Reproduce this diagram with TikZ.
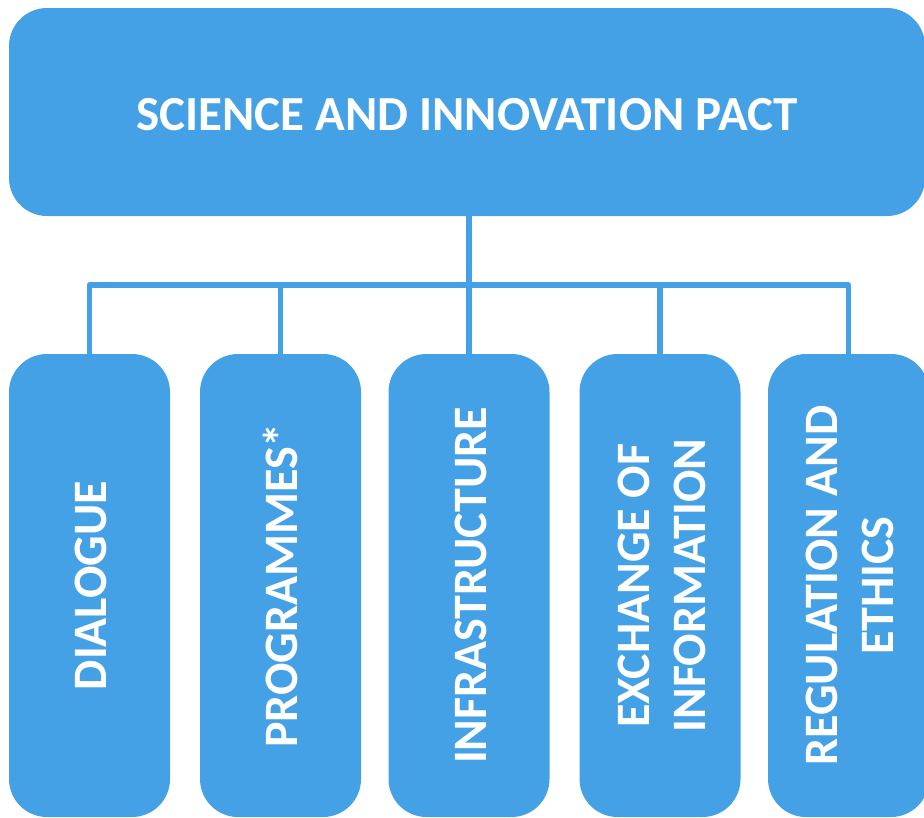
\documentclass[tikz,border=0pt]{standalone}
\usepackage{fontspec}
\setmainfont{Carlito}
\definecolor{pactblue}{HTML}{45A1E5}
\tikzset{
  headbox/.style={fill=pactblue, rounded corners=38pt, minimum width=916pt,
    minimum height=208pt, inner sep=0pt, text=white, text height=36pt,
    text depth=0pt, font=\bfseries\fontsize{49}{58}\selectfont},
  pillar/.style={fill=pactblue, rounded corners=38pt, minimum width=161pt,
    minimum height=463pt, inner sep=0pt, text=white,
    font=\bfseries\fontsize{48}{56}\selectfont},
  link/.style={draw=pactblue, line width=5.5pt, line join=round}
}
\newcommand{\upright}[1]{\hspace*{12pt}\rotatebox{90}{\begin{tabular}{@{}c@{}}#1\end{tabular}}}
\begin{document}
\begin{tikzpicture}[x=1pt,y=-1pt]
  \useasboundingbox (0,0) rectangle (924,817);
  % top box
  \node[headbox] (pact) at (467,112) {SCIENCE AND INNOVATION PACT};
  % the five pillars
  \node[pillar] (dialogue)   at (89.5,585.5) {\upright{DIALOGUE}};
  \node[pillar] (programmes) at (280.5,585.5) {\upright{PROGRAMMES*}};
  \node[pillar] (infra)      at (469,585.5) {\upright{INFRASTRUCTURE}};
  \node[pillar] (exchange)   at (660,585.5) {\upright{EXCHANGE OF\\INFORMATION}};
  \node[pillar] (regulation) at (848.5,585.5) {\upright{REGULATION AND\\ETHICS}};
  % connectors
  \coordinate (bus) at (469,285);
  \draw[link] (pact.south -| infra.north) -- (infra.north);
  \draw[link] (dialogue.north) -- (dialogue.north |- bus)
    -- (regulation.north |- bus) -- (regulation.north);
  \draw[link] (programmes.north) -- (programmes.north |- bus);
  \draw[link] (exchange.north) -- (exchange.north |- bus);
\end{tikzpicture}
\end{document}
